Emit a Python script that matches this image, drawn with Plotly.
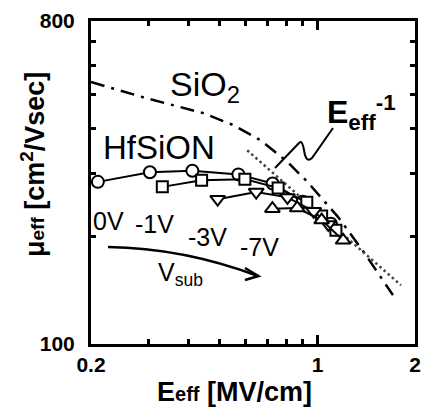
import math
import plotly.graph_objects as go

# ---- data ----
x_0v = [0.210, 0.304, 0.411, 0.570, 0.727, 0.900, 1.10]
y_0v = [284, 302, 305, 298, 281, 250, 217]
x_1v = [0.332, 0.439, 0.597, 0.756, 0.927, 1.03, 1.14]
y_1v = [275, 287, 289, 273, 249, 228, 208]
x_3v = [0.492, 0.647, 0.808, 0.974, 1.08]
y_3v = [254, 266, 257, 235, 216]
x_7v = [0.726, 0.866, 1.03, 1.20]
y_7v = [239, 240, 222, 195]
x_sio2 = [0.2, 0.298, 0.445, 0.551, 0.668, 0.808, 0.931, 1.16, 1.394, 1.71]
y_sio2 = [540, 486, 442, 409, 371, 323, 284, 226, 180, 137]
x_einv = [0.607, 1.81]
y_einv = [348, 146]

x_tickvals = [0.2, 1, 2]
x_ticktext = ["0.2", "1", "2"]
x_minor = [0.3, 0.4, 0.5, 0.6, 0.7, 0.8, 0.9]
y_tickvals = [100, 800]
y_ticktext = ["100", "800"]
y_minor = [200, 300, 400, 500, 600, 700]

W, H = 440, 411
L, T, R, B = 91, 21, 415, 344
FONT = "Liberation Sans, Arial, sans-serif"


def px(xp):
    return (xp - L) / (R - L)


def py(yp):
    return (B - yp) / (B - T)


fig = go.Figure()

fig.add_trace(go.Scatter(x=x_sio2, y=y_sio2, mode="lines",
                         line=dict(color="black", width=2.5, dash="14px,7px,3px,7px"),
                         showlegend=False))
fig.add_trace(go.Scatter(x=x_einv, y=y_einv, mode="lines",
                         line=dict(color="#444444", width=2.5, dash="2.5px,3px"),
                         showlegend=False))

series = [
    (x_0v, y_0v, "circle", 12),
    (x_1v, y_1v, "square", 11),
    (x_3v, y_3v, "triangle-down", 13),
    (x_7v, y_7v, "triangle-up", 13),
]
for xs, ys, sym, sz in series:
    fig.add_trace(go.Scatter(x=xs, y=ys, mode="lines+markers",
                             line=dict(color="black", width=2),
                             marker=dict(symbol=sym, size=sz, color="white",
                                         line=dict(color="black", width=2)),
                             showlegend=False))

axis_common = dict(type="log", showline=True, linewidth=3, linecolor="black",
                   mirror="ticks", ticks="inside", tickwidth=2.5, tickcolor="black",
                   showgrid=False, zeroline=False, automargin=False,
                   tickfont=dict(family=FONT, size=21, color="black", weight="bold"))

fig.update_xaxes(range=[math.log10(0.2), math.log10(2)],
                 tickmode="array", tickvals=x_tickvals, ticktext=x_ticktext, ticklen=9,
                 minor=dict(tickmode="array", tickvals=x_minor, ticklen=5, tickwidth=2.5,
                            ticks="inside", tickcolor="black", showgrid=False),
                 ticklabelstandoff=0,
                 **axis_common)
fig.update_yaxes(range=[2, math.log10(800)],
                 tickmode="array", tickvals=y_tickvals, ticktext=y_ticktext, ticklen=9,
                 minor=dict(tickmode="array", tickvals=y_minor, ticklen=5, tickwidth=2.5,
                            ticks="inside", tickcolor="black", showgrid=False),
                 ticklabelstandoff=9,
                 **axis_common)

ann = []


def txt(text, xp, yp, size, bold=False, xanchor="left", angle=0):
    ann.append(dict(text=text, x=px(xp), y=py(yp), xref="paper", yref="paper",
                    xanchor=xanchor, yanchor="middle", showarrow=False, textangle=angle,
                    font=dict(family=FONT, size=size, color="black",
                              weight="bold" if bold else "normal")))


txt("SiO<sub>2</sub>", 168, 86, 34)
txt("HfSiON", 101, 147, 33)
txt("0V", 91, 221, 25)
txt("-1V", 133, 224, 25)
txt("-3V", 186, 237, 25)
txt("-7V", 238, 247, 25)
txt("V<sub>sub</sub>", 156, 274, 25)
txt("E<sub>eff</sub><sup>-1</sup>", 325, 113, 32, bold=True)

# axis titles
txt("E<span style='font-size:20px'>eff</span> [MV/cm]", 234, 392, 27, bold=True,
    xanchor="center")
txt("μ<span style='font-size:19px'>eff</span> [cm<sup>2</sup>/Vsec]", 33, 165, 27,
    bold=True, xanchor="center", angle=-90)

shapes = []

# squiggle connector for E_eff^-1
sq = (f"M {px(275)},{py(168)} L {px(299)},{py(143)} "
      f"Q {px(302)},{py(139)} {px(304)},{py(150)} "
      f"Q {px(306)},{py(164)} {px(312)},{py(158)} L {px(333)},{py(128)}")
shapes.append(dict(type="path", path=sq, xref="paper", yref="paper",
                   line=dict(color="black", width=2)))

# V_sub arrow
arr = f"M {px(108)},{py(247)} Q {px(183)},{py(248)} {px(258)},{py(276)}"
shapes.append(dict(type="path", path=arr, xref="paper", yref="paper",
                   line=dict(color="black", width=2.5)))
head = (f"M {px(245)},{py(268)} L {px(258.5)},{py(276)} L {px(245)},{py(280)}")
shapes.append(dict(type="path", path=head, xref="paper", yref="paper",
                   line=dict(color="black", width=2.5)))

fig.update_layout(width=W, height=H, margin=dict(l=L, r=W - R, t=T, b=H - B),
                  paper_bgcolor="white", plot_bgcolor="white",
                  annotations=ann, shapes=shapes, showlegend=False)

fig.write_html("out.html", config={"displayModeBar": False},
               post_script="document.body.style.margin='0';"
                           "document.body.style.overflow='hidden';")
